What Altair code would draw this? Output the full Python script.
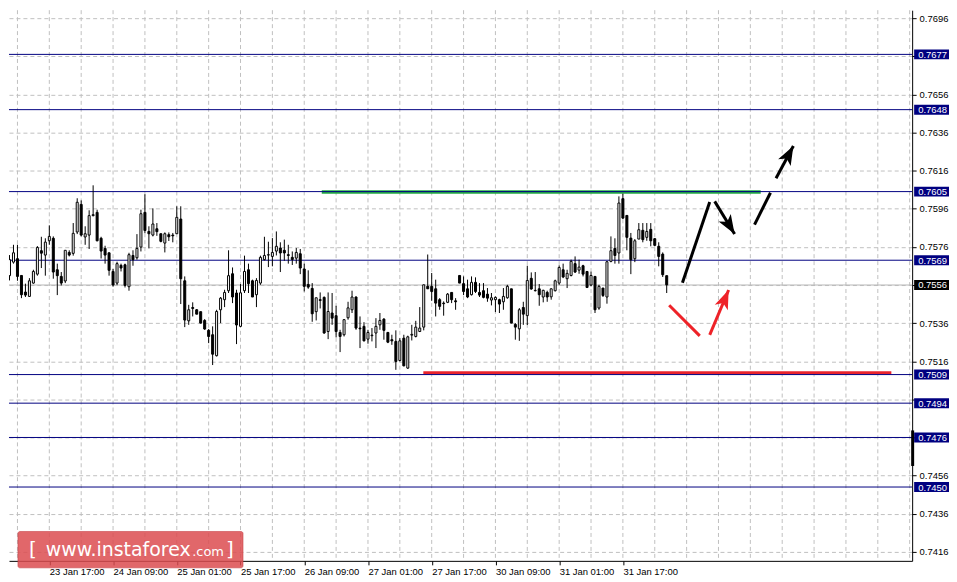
import json
import altair as alt
import pandas as pd

# ---------------- data (hourly candles, index 0 = 23 Jan 05:00) ----------------
OPEN = [
    0.75742, 0.75710, 0.75609, 0.75680, 0.75698, 0.75610, 0.75523, 0.75500, 0.75570, 0.75617,
    0.75740, 0.75717, 0.75792, 0.75805, 0.75640, 0.75605, 0.75581, 0.75731, 0.75726, 0.75838,
    0.75983, 0.75812, 0.75822, 0.75924, 0.75941, 0.75805, 0.75752, 0.75729, 0.75631, 0.75570,
    0.75663, 0.75666, 0.75551, 0.75715, 0.75703, 0.75759, 0.75941, 0.75841, 0.75822, 0.75855,
    0.75829, 0.75780, 0.75824, 0.75822, 0.75829, 0.75906, 0.75582, 0.75372, 0.75442, 0.75430,
    0.75420, 0.75374, 0.75322, 0.75299, 0.75189, 0.75430, 0.75483, 0.75530, 0.75619, 0.75518,
    0.75343, 0.75530, 0.75640, 0.75582, 0.75509, 0.75570, 0.75693, 0.75717, 0.75710, 0.75738,
    0.75754, 0.75742, 0.75719, 0.75705, 0.75701, 0.75724, 0.75644, 0.75563, 0.75542, 0.75420,
    0.75483, 0.75495, 0.75316, 0.75413, 0.75399, 0.75311, 0.75299, 0.75388, 0.75430, 0.75497,
    0.75334, 0.75343, 0.75276, 0.75294, 0.75308, 0.75351, 0.75381, 0.75311, 0.75273, 0.75264,
    0.75164, 0.75281, 0.75124, 0.75297, 0.75290, 0.75316, 0.75339, 0.75553, 0.75553, 0.75540,
    0.75483, 0.75465, 0.75469, 0.75521, 0.75477, 0.75610, 0.75567, 0.75540, 0.75509, 0.75574,
    0.75521, 0.75530, 0.75512, 0.75481, 0.75483, 0.75483, 0.75472, 0.75493, 0.75540, 0.75353,
    0.75330, 0.75442, 0.75399, 0.75595, 0.75530, 0.75540, 0.75497, 0.75521, 0.75498, 0.75530,
    0.75570, 0.75640, 0.75593, 0.75610, 0.75672, 0.75638, 0.75661, 0.75631, 0.75560, 0.75605,
    0.75439, 0.75544, 0.75497, 0.75684, 0.75752, 0.75728, 0.76013, 0.75925, 0.75806, 0.75698,
    0.75801, 0.75847, 0.75810, 0.75852, 0.75803, 0.75763, 0.75722, 0.75609,
]
HIGH = [
    0.75784, 0.75717, 0.75717, 0.75771, 0.75771, 0.75610, 0.75567, 0.75596, 0.75640, 0.75764,
    0.75813, 0.75805, 0.75873, 0.75815, 0.75672, 0.75628, 0.75742, 0.75742, 0.75885, 0.76015,
    0.76004, 0.75868, 0.75952, 0.76083, 0.75955, 0.75813, 0.75766, 0.75729, 0.75644, 0.75682,
    0.75672, 0.75672, 0.75729, 0.75742, 0.75827, 0.75955, 0.76036, 0.75868, 0.75962, 0.75885,
    0.75829, 0.75836, 0.75836, 0.75833, 0.75973, 0.75973, 0.75605, 0.75456, 0.75469, 0.75434,
    0.75420, 0.75381, 0.75329, 0.75343, 0.75430, 0.75497, 0.75535, 0.75742, 0.75652, 0.75535,
    0.75565, 0.75714, 0.75672, 0.75588, 0.75596, 0.75714, 0.75813, 0.75787, 0.75806, 0.75841,
    0.75784, 0.75798, 0.75771, 0.75736, 0.75754, 0.75749, 0.75672, 0.75637, 0.75570, 0.75493,
    0.75521, 0.75500, 0.75521, 0.75518, 0.75451, 0.75325, 0.75381, 0.75472, 0.75530, 0.75500,
    0.75395, 0.75365, 0.75325, 0.75334, 0.75386, 0.75413, 0.75386, 0.75314, 0.75299, 0.75322,
    0.75281, 0.75299, 0.75294, 0.75351, 0.75372, 0.75444, 0.75561, 0.75720, 0.75623, 0.75588,
    0.75491, 0.75474, 0.75518, 0.75521, 0.75491, 0.75610, 0.75605, 0.75588, 0.75605, 0.75600,
    0.75570, 0.75570, 0.75544, 0.75518, 0.75500, 0.75488, 0.75544, 0.75561, 0.75540, 0.75360,
    0.75439, 0.75472, 0.75661, 0.75626, 0.75628, 0.75565, 0.75535, 0.75530, 0.75542, 0.75588,
    0.75663, 0.75672, 0.75640, 0.75693, 0.75710, 0.75693, 0.75666, 0.75631, 0.75630, 0.75605,
    0.75561, 0.75544, 0.75686, 0.75815, 0.75805, 0.76025, 0.76039, 0.75925, 0.75833, 0.75801,
    0.75885, 0.75885, 0.75885, 0.75885, 0.75805, 0.75784, 0.75731, 0.75609,
]
LOW = [
    0.75693, 0.75602, 0.75584, 0.75672, 0.75582, 0.75491, 0.75497, 0.75497, 0.75567, 0.75609,
    0.75649, 0.75609, 0.75771, 0.75593, 0.75507, 0.75558, 0.75570, 0.75710, 0.75714, 0.75827,
    0.75815, 0.75771, 0.75749, 0.75920, 0.75789, 0.75699, 0.75672, 0.75609, 0.75551, 0.75560,
    0.75631, 0.75547, 0.75530, 0.75661, 0.75693, 0.75736, 0.75832, 0.75752, 0.75815, 0.75818,
    0.75784, 0.75731, 0.75791, 0.75784, 0.75829, 0.75460, 0.75339, 0.75351, 0.75395, 0.75407,
    0.75358, 0.75325, 0.75255, 0.75140, 0.75185, 0.75360, 0.75444, 0.75518, 0.75465, 0.75250,
    0.75339, 0.75518, 0.75518, 0.75497, 0.75444, 0.75561, 0.75689, 0.75654, 0.75658, 0.75715,
    0.75628, 0.75687, 0.75672, 0.75665, 0.75672, 0.75617, 0.75526, 0.75540, 0.75367, 0.75374,
    0.75437, 0.75304, 0.75276, 0.75351, 0.75285, 0.75208, 0.75290, 0.75378, 0.75413, 0.75325,
    0.75229, 0.75264, 0.75252, 0.75264, 0.75229, 0.75325, 0.75273, 0.75255, 0.75246, 0.75115,
    0.75159, 0.75133, 0.75120, 0.75269, 0.75285, 0.75313, 0.75322, 0.75540, 0.75477, 0.75395,
    0.75430, 0.75399, 0.75465, 0.75465, 0.75430, 0.75570, 0.75507, 0.75491, 0.75505, 0.75518,
    0.75497, 0.75490, 0.75472, 0.75453, 0.75418, 0.75413, 0.75430, 0.75488, 0.75360, 0.75273,
    0.75267, 0.75351, 0.75350, 0.75535, 0.75526, 0.75451, 0.75469, 0.75472, 0.75483, 0.75526,
    0.75561, 0.75596, 0.75544, 0.75605, 0.75623, 0.75619, 0.75605, 0.75544, 0.75553, 0.75413,
    0.75430, 0.75497, 0.75462, 0.75679, 0.75672, 0.75672, 0.75906, 0.75742, 0.75617, 0.75680,
    0.75801, 0.75784, 0.75792, 0.75763, 0.75763, 0.75658, 0.75602, 0.75518,
]
CLOSE = [
    0.75707, 0.75605, 0.75693, 0.75729, 0.75605, 0.75509, 0.75507, 0.75582, 0.75631, 0.75757,
    0.75727, 0.75785, 0.75815, 0.75628, 0.75609, 0.75570, 0.75742, 0.75717, 0.75831, 0.75994,
    0.75822, 0.75829, 0.75924, 0.75929, 0.75792, 0.75738, 0.75717, 0.75637, 0.75560, 0.75672,
    0.75649, 0.75558, 0.75719, 0.75693, 0.75752, 0.75934, 0.75846, 0.75829, 0.75880, 0.75840,
    0.75789, 0.75829, 0.75813, 0.75818, 0.75915, 0.75593, 0.75376, 0.75430, 0.75437, 0.75407,
    0.75360, 0.75329, 0.75290, 0.75197, 0.75421, 0.75491, 0.75521, 0.75609, 0.75497, 0.75350,
    0.75519, 0.75631, 0.75567, 0.75497, 0.75584, 0.75705, 0.75715, 0.75719, 0.75731, 0.75763,
    0.75728, 0.75728, 0.75715, 0.75694, 0.75731, 0.75649, 0.75553, 0.75549, 0.75409, 0.75493,
    0.75479, 0.75308, 0.75421, 0.75386, 0.75316, 0.75290, 0.75378, 0.75440, 0.75497, 0.75334,
    0.75330, 0.75267, 0.75311, 0.75297, 0.75343, 0.75374, 0.75322, 0.75260, 0.75267, 0.75159,
    0.75267, 0.75136, 0.75288, 0.75301, 0.75339, 0.75334, 0.75561, 0.75540, 0.75526, 0.75465,
    0.75448, 0.75462, 0.75512, 0.75483, 0.75472, 0.75570, 0.75526, 0.75497, 0.75574, 0.75526,
    0.75507, 0.75495, 0.75491, 0.75493, 0.75495, 0.75460, 0.75500, 0.75553, 0.75360, 0.75339,
    0.75430, 0.75407, 0.75584, 0.75539, 0.75532, 0.75509, 0.75532, 0.75497, 0.75540, 0.75582,
    0.75652, 0.75602, 0.75621, 0.75684, 0.75628, 0.75654, 0.75617, 0.75547, 0.75610, 0.75430,
    0.75553, 0.75505, 0.75682, 0.75740, 0.75715, 0.75990, 0.75911, 0.75810, 0.75693, 0.75792,
    0.75850, 0.75798, 0.75841, 0.75792, 0.75768, 0.75710, 0.75614, 0.75561,
]

TICK_POS = [12, 28, 44, 60, 76, 92, 108, 124, 140, 156]
TICK_LABELS = ["23 Jan 17:00", "24 Jan 09:00", "25 Jan 01:00", "25 Jan 17:00", "26 Jan 09:00",
               "27 Jan 01:00", "27 Jan 17:00", "30 Jan 09:00", "31 Jan 01:00", "31 Jan 17:00"]
GRID_PRICES = [0.7416, 0.7436, 0.7456, 0.7476, 0.7496, 0.7516, 0.7536, 0.7556,
               0.7576, 0.7596, 0.7616, 0.7636, 0.7656, 0.7676, 0.7696]
HIDDEN_LABELS = [0.7676, 0.7556, 0.7496, 0.7476]   # covered by the level boxes
VGRID_K = list(range(4, 229, 8))
LEVELS = [0.7677, 0.7648, 0.7605, 0.7569, 0.7509, 0.7494, 0.7476, 0.7450]
CURRENT = 0.7556

GREEN_K = [80.4, 190.6]
GREEN_P = 0.76048
RED_K = [105.9, 223.4]
RED_P = 0.7510

SEG_K0 = [170.95, 179.05, 189.05, 194.45, 167.625, 177.8]
SEG_P0 = [0.755718, 0.759987, 0.758769, 0.761204, 0.754537, 0.752986]
SEG_K1 = [177.8, 184.05, 193.05, 198.8, 175.3, 182.55]
SEG_P1 = [0.759950, 0.758278, 0.760441, 0.762897, 0.752933, 0.755337]
SEG_COLOR = ["black", "black", "black", "black", "#ee2228", "#ee2228"]

HEAD_K = [184.05, 198.8, 182.55]
HEAD_P = [0.758278, 0.762897, 0.755337]
HEAD_ANGLE = [148.5, 28.2, 22.9]
HEAD_COLOR = ["black", "black", "#ee2228"]

AXIS_BAR_P = [0.74797, 0.746105]

X_DOMAIN = [1.875, 228.625]
Y_DOMAIN = [0.741126, 0.770018]
W, H = 907, 553

# ---------------- chart ----------------
xs = alt.Scale(domain=X_DOMAIN, nice=False, zero=False)
ys = alt.Scale(domain=Y_DOMAIN, nice=False, zero=False)
FONT = "Liberation Sans"

x_label_expr = json.dumps(TICK_LABELS) + "[round((datum.value - 12) / 16)]"
y_label_expr = ("indexof(" + json.dumps(HIDDEN_LABELS) +
                ", round(datum.value * 10000) / 10000) >= 0 ? '' : format(datum.value, '.4f')")
x_axis = alt.Axis(values=TICK_POS, labelExpr=x_label_expr, orient="bottom", grid=False,
                  domainColor="black", domainWidth=1, tickColor="black", tickSize=4,
                  labelAlign="left", labelBaseline="top", labelFont=FONT, labelFontSize=9.5,
                  labelColor="black", labelPadding=2, labelOverlap=False, labelFlush=False,
                  labelBound=False, title=None)
y_axis = alt.Axis(values=GRID_PRICES, labelExpr=y_label_expr, orient="right", grid=True,
                  gridColor="#c0c0c0", gridDash=[4, 3], gridWidth=1,
                  domainColor="black", domainWidth=1, tickColor="black", tickSize=4,
                  labelFont=FONT, labelFontSize=9.5, labelColor="black", labelPadding=3,
                  labelOverlap=False, labelFlush=False, labelBound=False, title=None)


def X(f):
    return alt.X(f, type="quantitative", scale=xs, axis=x_axis)


def Y(f):
    return alt.Y(f, type="quantitative", scale=ys, axis=y_axis)


candles = pd.DataFrame({"k": list(range(len(OPEN))), "open": OPEN, "high": HIGH,
                        "low": LOW, "close": CLOSE})
candles["fill"] = ["white" if c >= o else "black" for o, c in zip(OPEN, CLOSE)]

vgrid = alt.Chart(pd.DataFrame({"k": VGRID_K})).mark_rule(
    color="#c0c0c0", strokeDash=[4, 3], strokeWidth=1
).encode(x=X("k"))

levels_df = pd.DataFrame({"price": LEVELS, "label": [f"{p:.4f}" for p in LEVELS]})
level_lines = alt.Chart(levels_df).mark_rule(color="#000080", strokeWidth=1).encode(
    y=Y("price"))

cur_df = pd.DataFrame({"price": [CURRENT], "label": [f"{CURRENT:.4f}"]})
cur_line = alt.Chart(cur_df).mark_rule(color="#b8b8b8", strokeWidth=1.2).encode(y=Y("price"))

green = alt.Chart(pd.DataFrame({"k0": [GREEN_K[0]], "k1": [GREEN_K[1]], "p": [GREEN_P]})).mark_rule(
    color="#22a843", strokeWidth=3.5).encode(x=X("k0"), x2=alt.X2("k1"), y=Y("p"))
red = alt.Chart(pd.DataFrame({"k0": [RED_K[0]], "k1": [RED_K[1]], "p": [RED_P]})).mark_rule(
    color="#e8232c", strokeWidth=3).encode(x=X("k0"), x2=alt.X2("k1"), y=Y("p"))

wicks = alt.Chart(candles).mark_rule(color="black", strokeWidth=1, clip=True).encode(
    x=X("k"), y=Y("low"), y2=alt.Y2("high"))
bodies = alt.Chart(candles).mark_rect(stroke="black", strokeWidth=1, clip=True,
                                      xOffset=-1, x2Offset=1).encode(
    x=X("k"), x2=alt.X2("k"), y=Y("open"), y2=alt.Y2("close"),
    fill=alt.Fill("fill:N", scale=None))

segs_df = pd.DataFrame({"k0": SEG_K0, "p0": SEG_P0, "k1": SEG_K1, "p1": SEG_P1, "color": SEG_COLOR})
segs = alt.Chart(segs_df).mark_rule(strokeWidth=3).encode(
    x=X("k0"), x2=alt.X2("k1"), y=Y("p0"), y2=alt.Y2("p1"),
    color=alt.Color("color:N", scale=None))

heads_df = pd.DataFrame({"k": HEAD_K, "p": HEAD_P, "angle": HEAD_ANGLE, "color": HEAD_COLOR})
heads = alt.Chart(heads_df).mark_point(
    shape="M0,0L0.75,2L0,1.5L-0.75,2Z", filled=True, size=361, opacity=1, strokeWidth=0
).encode(x=X("k"), y=Y("p"), angle=alt.Angle("angle:Q", scale=None),
         color=alt.Color("color:N", scale=None))

axis_bar = alt.Chart(pd.DataFrame({"a": [AXIS_BAR_P[0]], "b": [AXIS_BAR_P[1]]})).mark_rule(
    color="black", strokeWidth=3).encode(x=alt.value(907.5), y=Y("a"), y2=alt.Y2("b"))

boxes = alt.Chart(levels_df).mark_rect(color="#000080", yOffset=-5, y2Offset=5).encode(
    x=alt.value(909), x2=alt.value(944), y=Y("price"), y2=alt.Y2("price"))
box_text = alt.Chart(levels_df).mark_text(align="left", baseline="middle", font=FONT,
                                          fontSize=9.5, color="white", dy=0.5).encode(
    x=alt.value(913), y=Y("price"), text="label:N")
cur_box = alt.Chart(cur_df).mark_rect(color="black", yOffset=-5, y2Offset=5).encode(
    x=alt.value(909), x2=alt.value(944), y=Y("price"), y2=alt.Y2("price"))
cur_text = alt.Chart(cur_df).mark_text(align="left", baseline="middle", font=FONT,
                                       fontSize=9.5, color="white", dy=0.5).encode(
    x=alt.value(913), y=Y("price"), text="label:N")

one = pd.DataFrame({"a": [0]})
wm_rect = alt.Chart(one).mark_rect(fill="#dc4c50", fillOpacity=0.85, stroke="#c84448",
                                   strokeOpacity=0.6, strokeWidth=1, cornerRadius=2).encode(
    x=alt.value(9), x2=alt.value(235), y=alt.value(523.5), y2=alt.value(560))
wm_l = alt.Chart(one).mark_text(text="[", font="DejaVu Sans", fontSize=20, color="white",
                                align="left", baseline="alphabetic").encode(
    x=alt.value(20), y=alt.value(548))
wm_main = alt.Chart(one).mark_text(text="www.instaforex", font="DejaVu Sans", fontSize=19,
                                   color="white", align="left", baseline="alphabetic").encode(
    x=alt.value(37), y=alt.value(548))
wm_com = alt.Chart(one).mark_text(text=".com", font="DejaVu Sans", fontSize=13, color="white",
                                  align="left", baseline="alphabetic").encode(
    x=alt.value(184), y=alt.value(548))
wm_r = alt.Chart(one).mark_text(text="]", font="DejaVu Sans", fontSize=20, color="white",
                                align="left", baseline="alphabetic").encode(
    x=alt.value(218), y=alt.value(548))

chart = alt.layer(
    vgrid, cur_line, green, red, level_lines, wicks, bodies, segs, heads,
    axis_bar, boxes, box_text, cur_box, cur_text,
    wm_rect, wm_l, wm_main, wm_com, wm_r,
).properties(width=W, height=H, padding=0, background="white").configure_view(strokeWidth=0)

chart.save("out.html", embed_options={"renderer": "svg", "actions": False})
